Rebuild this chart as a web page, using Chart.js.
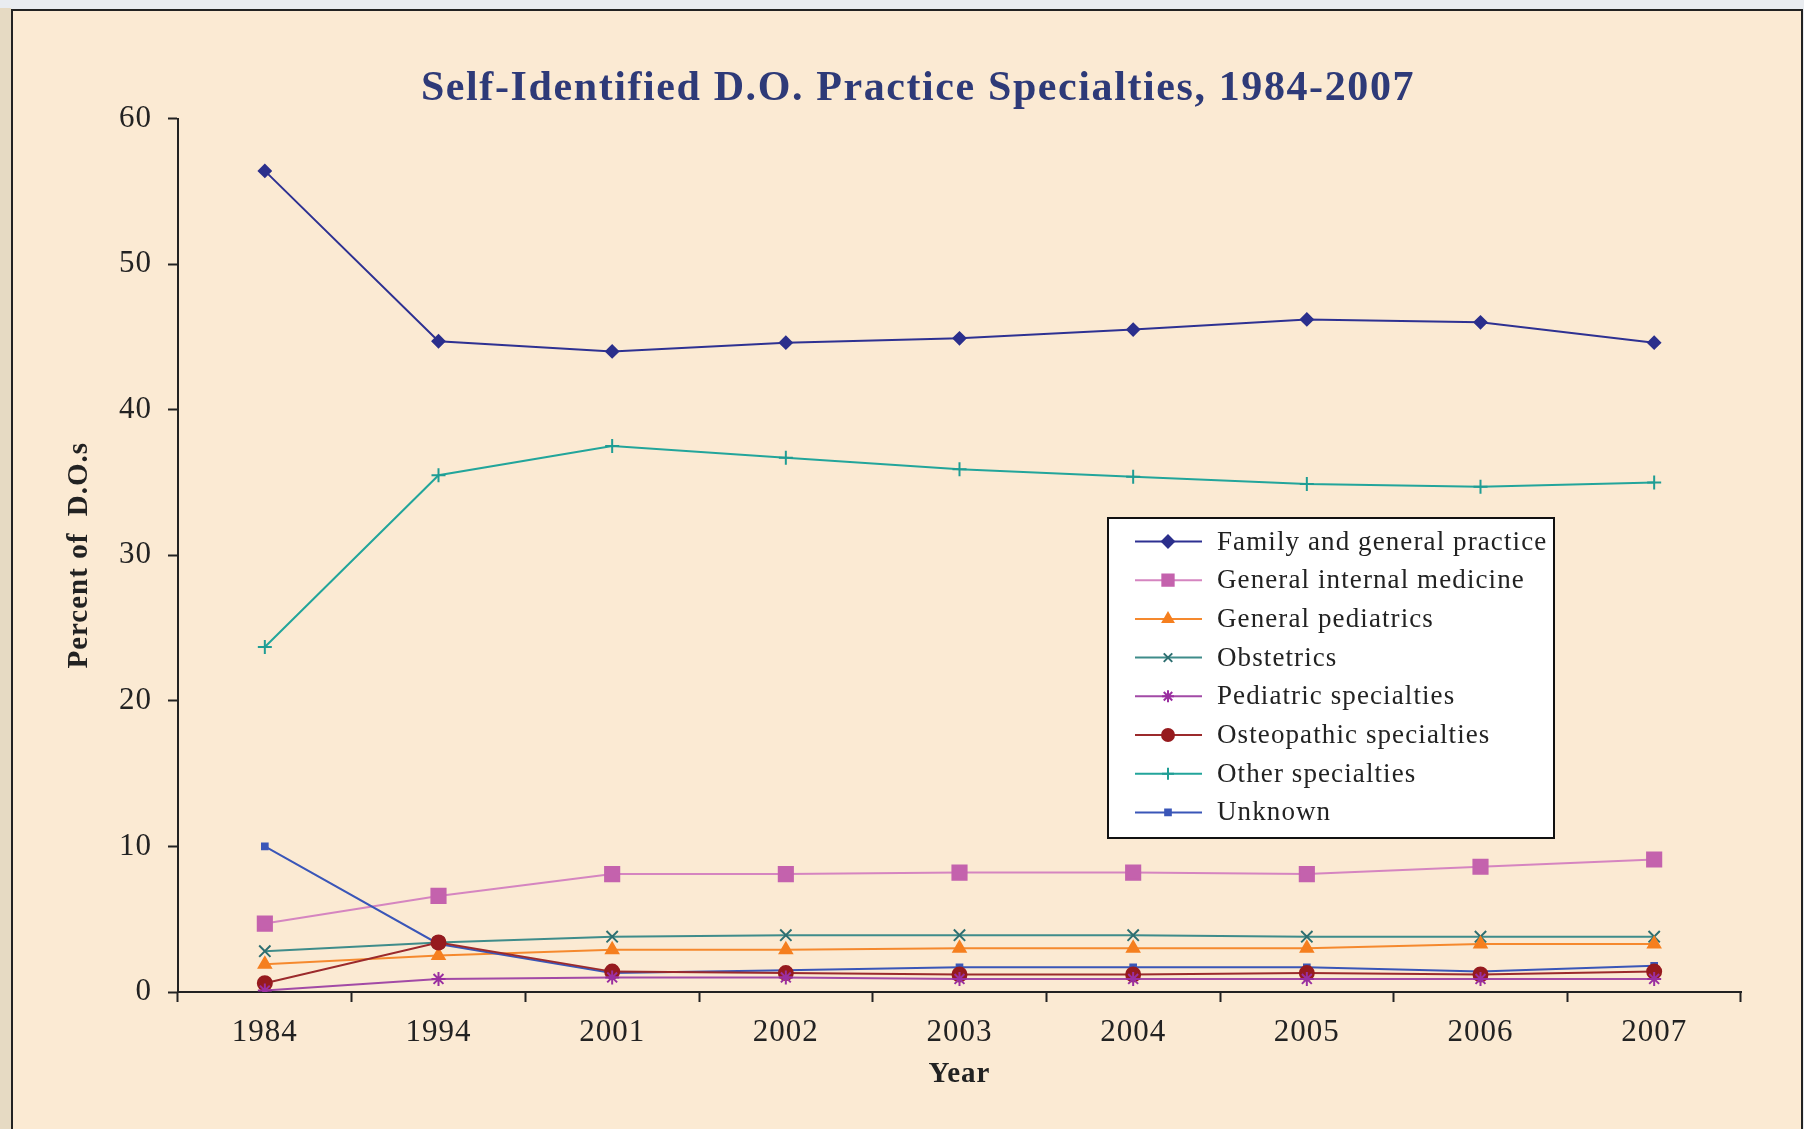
<!DOCTYPE html>
<html>
<head>
<meta charset="utf-8">
<script src="https://cdn.jsdelivr.net/npm/chart.js@4.4.1/dist/chart.umd.min.js"></script>
<style>
  html, body { margin: 0; padding: 0; background: #e9ecf0; }
  #wrap { position: relative; width: 1804px; height: 1129px; }
</style>
</head>
<body>
<div id="wrap"><canvas id="c"></canvas></div>
<script>
// ---- data ----
const years = ['1984', '1994', '2001', '2002', '2003', '2004', '2005', '2006', '2007'];
const familyPractice    = [56.4, 44.7, 44.0, 44.6, 44.9, 45.5, 46.2, 46.0, 44.6];
const internalMedicine  = [4.7, 6.6, 8.1, 8.1, 8.2, 8.2, 8.1, 8.6, 9.1];
const generalPediatrics = [1.9, 2.5, 2.9, 2.9, 3.0, 3.0, 3.0, 3.3, 3.3];
const obstetrics        = [2.8, 3.4, 3.8, 3.9, 3.9, 3.9, 3.8, 3.8, 3.8];
const pediatricSpecs    = [0.1, 0.9, 1.0, 1.0, 0.9, 0.9, 0.9, 0.9, 0.9];
const osteopathicSpecs  = [0.6, 3.4, 1.4, 1.3, 1.2, 1.2, 1.3, 1.2, 1.4];
const otherSpecs        = [23.7, 35.5, 37.5, 36.7, 35.9, 35.4, 34.9, 34.7, 35.0];
const unknownSpec       = [10.0, 3.3, 1.3, 1.5, 1.7, 1.7, 1.7, 1.4, 1.8];
const seriesNames = ['Family and general practice', 'General internal medicine', 'General pediatrics',
  'Obstetrics', 'Pediatric specialties', 'Osteopathic specialties', 'Other specialties', 'Unknown'];
const yTicks = [0, 10, 20, 30, 40, 50, 60];
const chartTitle = 'Self-Identified D.O. Practice Specialties, 1984-2007';
const yTitle = 'Percent of  D.O.s';
const xTitle = 'Year';

const SERIF = '"Liberation Serif", "DejaVu Serif", serif';

function ds(label, data, line, point, style, radius) {
  return {
    label, data,
    borderColor: line, backgroundColor: point,
    pointBackgroundColor: point, pointBorderColor: point,
    pointStyle: style, pointRadius: radius, pointBorderWidth: 2,
    borderWidth: 2, tension: 0, fill: false
  };
}

const datasets = [
  ds(seriesNames[4], pediatricSpecs, '#a24aa6', '#9a2fa0', 'star', 7),
  ds(seriesNames[5], osteopathicSpecs, '#9b2a2c', '#961a1e', 'circle', 7),
  ds(seriesNames[7], unknownSpec, '#3a56b8', '#3a56b8', 'rect', 4),
  ds(seriesNames[2], generalPediatrics, '#f5892e', '#f57f1f', 'triangle', 7),
  ds(seriesNames[3], obstetrics, '#3f8c8a', '#2e6f71', 'crossRot', 8),
  ds(seriesNames[1], internalMedicine, '#d585c0', '#c462ad', 'rect', 10),
  ds(seriesNames[6], otherSpecs, '#22a59b', '#1f9d94', 'cross', 7),
  ds(seriesNames[0], familyPractice, '#2e3192', '#2b2f8c', 'rectRot', 6)
];
// legend order
const legendOrder = [7, 5, 3, 4, 0, 1, 6, 2];

const framePlugin = {
  id: 'frame',
  beforeDraw(chart) {
    const ctx = chart.ctx;
    ctx.save();
    ctx.fillStyle = '#e9ecf0';
    ctx.fillRect(0, 0, chart.width, chart.height);
    ctx.fillStyle = '#e6dac3';
    ctx.fillRect(0, 8, 11, chart.height);
    ctx.fillStyle = '#fbead3';
    ctx.fillRect(11, 10, 1791, chart.height - 10);
    ctx.strokeStyle = '#222';
    ctx.lineWidth = 2;
    ctx.beginPath();
    ctx.moveTo(12, chart.height);
    ctx.lineTo(12, 10);
    ctx.lineTo(1802, 10);
    ctx.lineTo(1802, chart.height);
    ctx.stroke();
    // title
    ctx.fillStyle = '#2e3a78';
    ctx.font = 'bold 42px ' + SERIF;
    ctx.letterSpacing = '1.6px';
    ctx.textAlign = 'center';
    ctx.textBaseline = 'middle';
    ctx.fillText(chartTitle, 918, 89);
    ctx.restore();
    ctx.letterSpacing = '1px';
  },
  afterDraw(chart) {
    const ctx = chart.ctx;
    ctx.save();
    const bx = 1108, by = 518, bw = 446, bh = 320;
    ctx.fillStyle = '#ffffff';
    ctx.fillRect(bx, by, bw, bh);
    ctx.strokeStyle = '#111';
    ctx.lineWidth = 2;
    ctx.strokeRect(bx, by, bw, bh);
    ctx.font = '27px ' + SERIF;
    ctx.letterSpacing = '1.1px';
    ctx.textAlign = 'left';
    ctx.textBaseline = 'middle';
    legendOrder.forEach((di, i) => {
      const d = chart.data.datasets[di];
      const y = 541.5 + i * 38.7;
      ctx.strokeStyle = d.borderColor;
      ctx.lineWidth = 2;
      ctx.beginPath();
      ctx.moveTo(1135, y);
      ctx.lineTo(1202, y);
      ctx.stroke();
      const r = d.pointStyle === 'rect' && d.pointRadius > 6 ? 8 : Math.min(d.pointRadius, 6);
      ctx.fillStyle = d.pointBackgroundColor;
      ctx.strokeStyle = d.pointBorderColor;
      Chart.helpers.drawPoint(ctx, {pointStyle: d.pointStyle, radius: r, borderWidth: 2, rotation: 0}, 1168, y);
      ctx.fillStyle = '#222';
      ctx.fillText(d.label, 1217, y + 1);
    });
    ctx.restore();
  }
};

new Chart(document.getElementById('c'), {
  type: 'line',
  data: { labels: years, datasets },
  plugins: [framePlugin],
  options: {
    responsive: true,
    maintainAspectRatio: false,
    animation: false,
    layout: { padding: { left: 28, top: 118.5, right: 63, bottom: 37 } },
    plugins: { legend: { display: false }, tooltip: { enabled: false }, title: { display: false } },
    scales: {
      x: {
        type: 'category',
        offset: true,
        afterFit(scale) { scale.height = 100; },
        grid: { display: true, drawOnChartArea: false, drawTicks: true, tickLength: 10, tickColor: '#222', tickWidth: 2, offset: true },
        border: { display: true, color: '#222', width: 2 },
        ticks: { color: '#222', font: { family: SERIF, size: 31 }, padding: 12, maxRotation: 0, autoSkip: false },
        title: { display: true, text: xTitle, color: '#222', font: { family: SERIF, size: 29, weight: 'bold' }, padding: { top: 0, bottom: 0 } }
      },
      y: {
        min: 0, max: 60,
        afterFit(scale) { scale.width = 150; },
        afterBuildTicks(scale) { scale.ticks = yTicks.map(v => ({ value: v })); },
        grid: { display: true, drawOnChartArea: false, drawTicks: true, tickLength: 10, tickColor: '#222', tickWidth: 2 },
        border: { display: true, color: '#222', width: 2 },
        ticks: { color: '#222', font: { family: SERIF, size: 31 }, padding: 16 },
        title: { display: true, text: yTitle, color: '#222', font: { family: SERIF, size: 29, weight: 'bold' }, padding: { top: 34, bottom: 0 } }
      }
    }
  }
});
</script>
</body>
</html>
